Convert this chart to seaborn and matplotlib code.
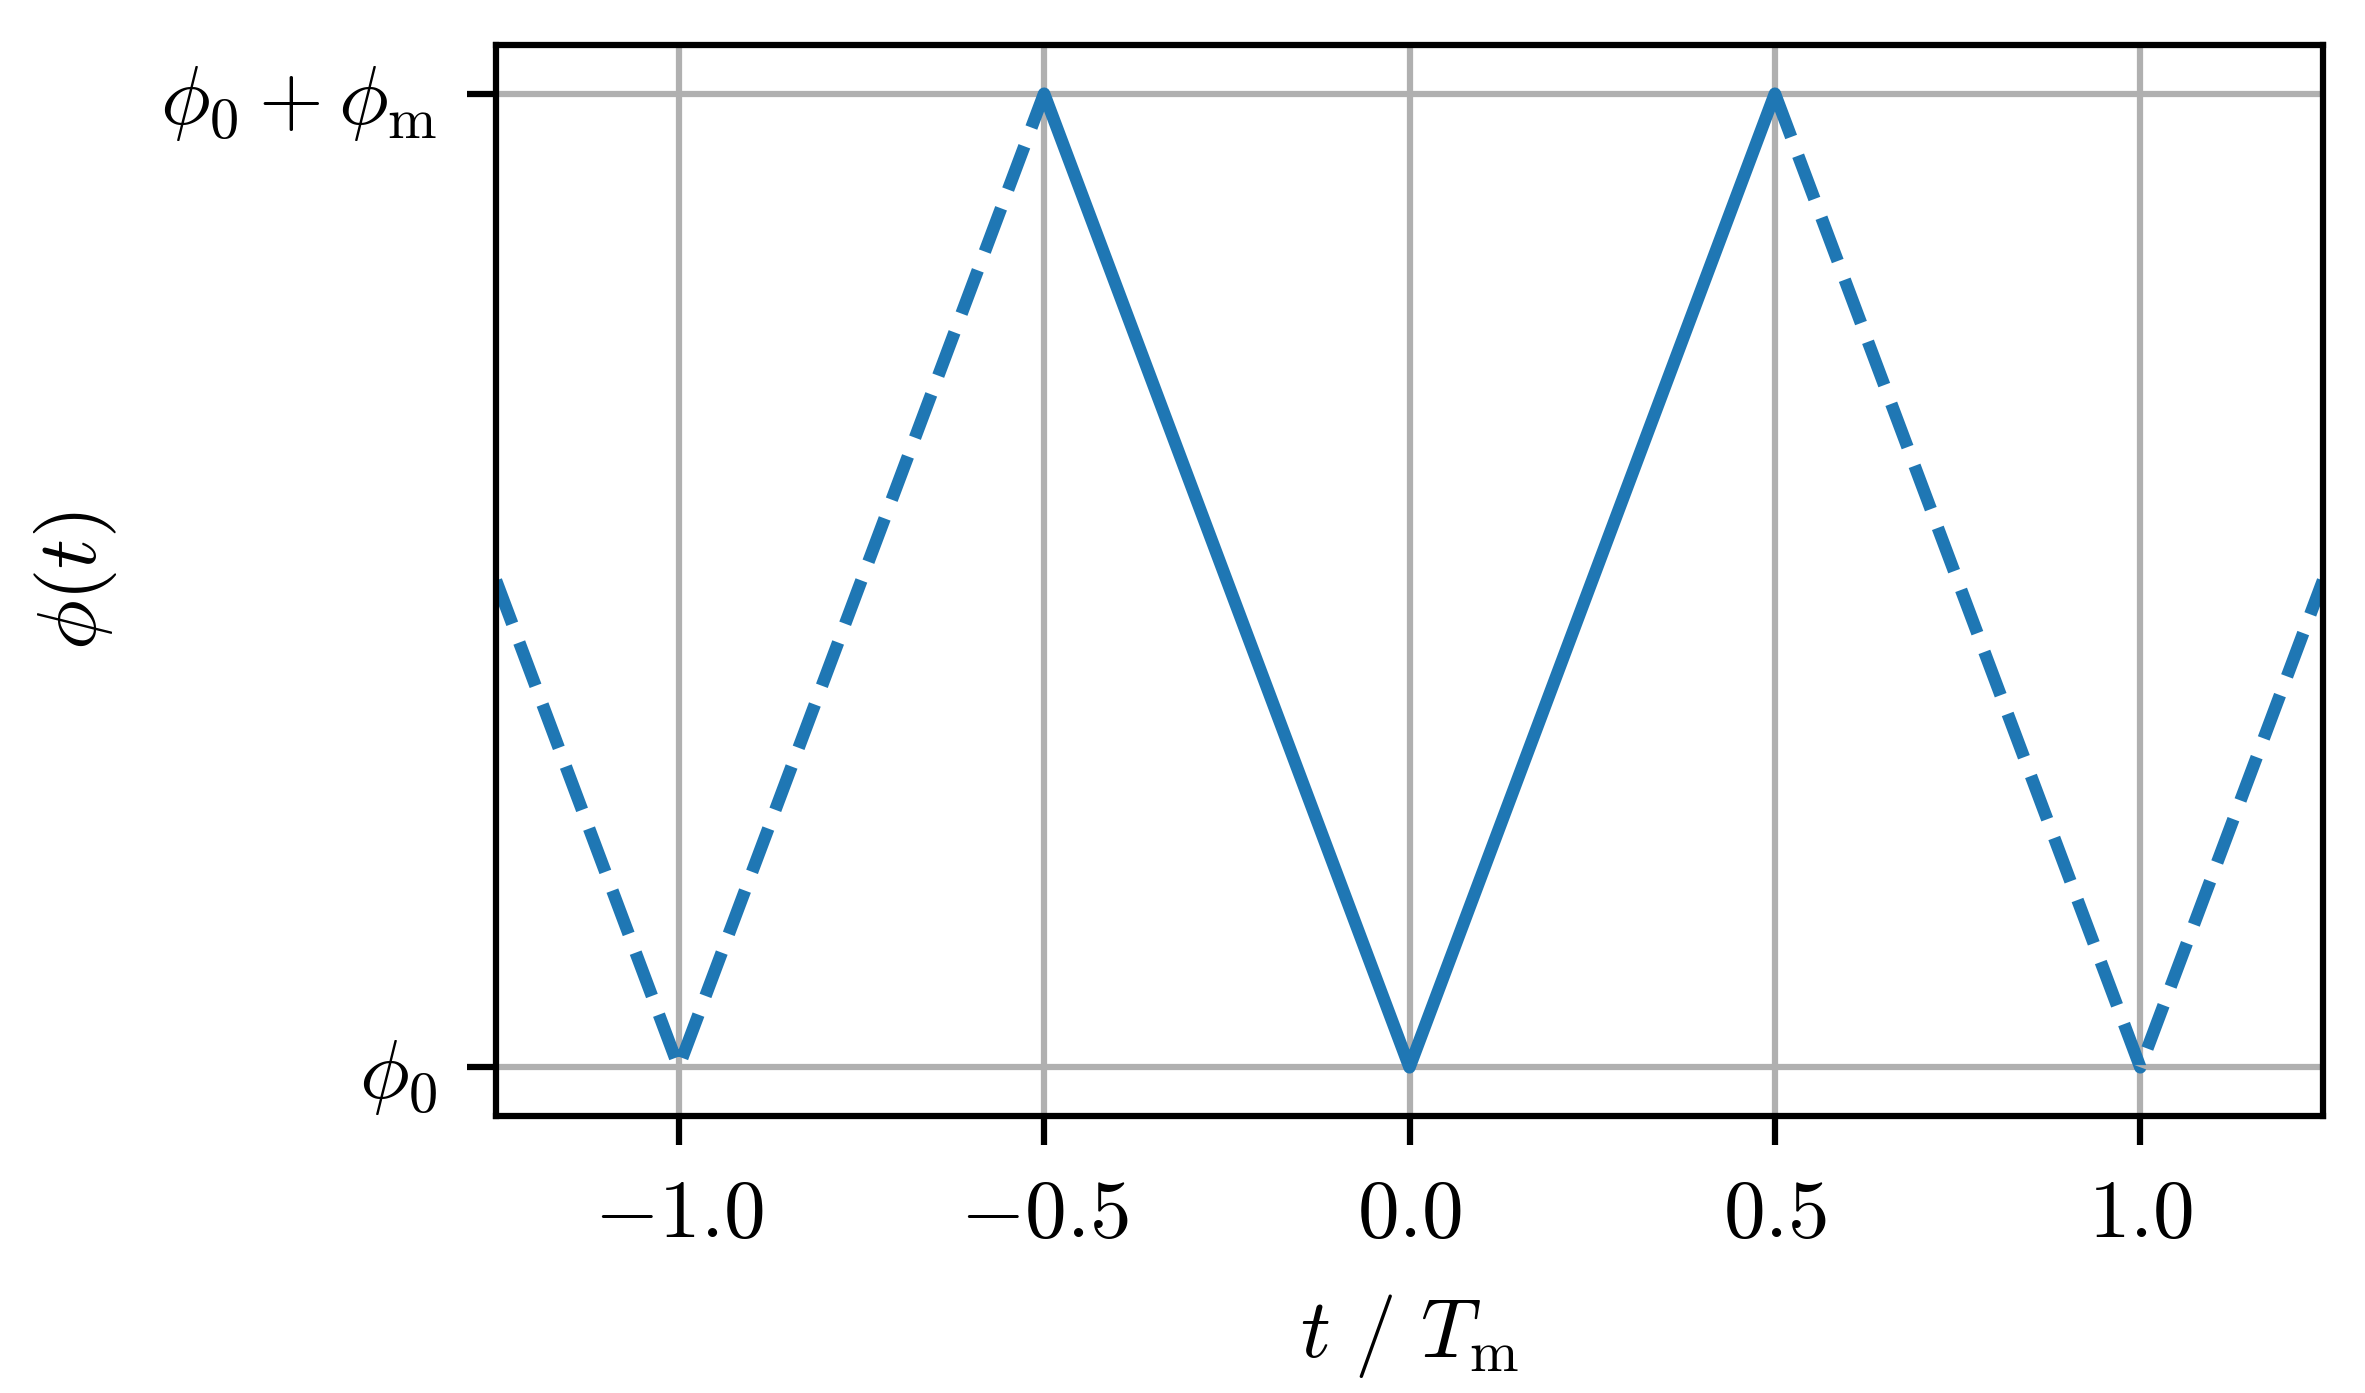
import seaborn as sns
import matplotlib.pyplot as plt

# triangular phase modulation, one period drawn solid
t_left = [-1.25, -1.0, -0.5]
phi_left = [0.5, 0.0, 1.0]
t_mid = [-0.5, 0.0, 0.5]
phi_mid = [1.0, 0.0, 1.0]
t_right = [0.5, 1.0, 1.25]
phi_right = [1.0, 0.0, 0.5]

xticks = [-1.0, -0.5, 0.0, 0.5, 1.0]
xtick_labels = [r"$-1.0$", r"$-0.5$", r"$0.0$", r"$0.5$", r"$1.0$"]
yticks = [0.0, 1.0]
ytick_labels = [r"$\phi_0$", r"$\phi_0 + \phi_\mathrm{m}$"]

sns.set_style("whitegrid", {"text.color": "black", "axes.labelcolor": "black",
                            "xtick.color": "black", "ytick.color": "black"})
plt.rcParams["mathtext.fontset"] = "cm"
plt.rcParams["font.family"] = ["DejaVu Serif"]

fig = plt.figure(figsize=(2365 / 300, 1393 / 300), dpi=300)
ax = fig.add_axes([496 / 2365, 1 - 1116 / 1393, (2323 - 496) / 2365, (1116 - 45) / 1393])

color = "#1f77b4"
lw = 3.0
sns.lineplot(x=t_left, y=phi_left, ax=ax, color=color, lw=lw, linestyle="--")
sns.lineplot(x=t_mid, y=phi_mid, ax=ax, color=color, lw=lw)
sns.lineplot(x=t_right, y=phi_right, ax=ax, color=color, lw=lw, linestyle="--")

ax.set_xlim(-1.25, 1.25)
ax.set_ylim(-0.05, 1.05)
ax.set_xticks(xticks)
ax.set_xticklabels(xtick_labels)
ax.set_yticks(yticks)
ax.set_yticklabels(ytick_labels)

ax.grid(True, color="#b0b0b0", lw=1.5)
for s in ax.spines.values():
    s.set_color("black")
    s.set_linewidth(1.5)
ax.tick_params(axis="both", which="major", length=7, width=1.5, color="black",
               labelcolor="black", labelsize=20, pad=7, bottom=True, left=True)

ax.set_xlabel(r"$t\ /\ T_\mathrm{m}$", fontsize=20, labelpad=9, color="black")
ax.set_ylabel(r"$\phi(t)$", fontsize=20, labelpad=10, color="black")

fig.savefig("out.png", dpi=300)
